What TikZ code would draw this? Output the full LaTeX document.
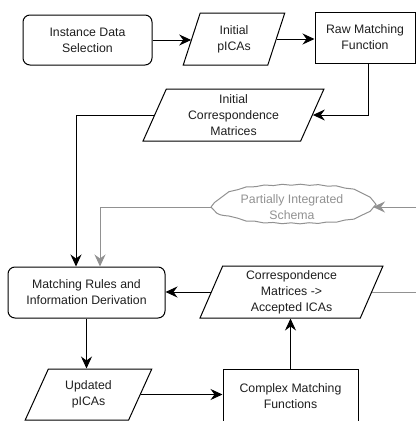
\documentclass[tikz,border=0pt]{standalone}
\usepackage{fontspec}
\setmainfont{Liberation Sans}
\usetikzlibrary{arrows.meta,shapes.geometric,decorations.pathmorphing}
\definecolor{cgray}{RGB}{145,145,145}
\definecolor{ctext}{RGB}{30,30,30}
\begin{document}
\begin{tikzpicture}[x=1pt,y=-1pt,
  every node/.style={font=\fontsize{12.3}{16}\selectfont, text=ctext, align=center, line width=1pt},
  roundbox/.style={draw, rounded corners=7pt, inner sep=0pt},
  rectbox/.style={draw, inner sep=0pt},
  para/.style={draw, trapezium, trapezium stretches=true, inner sep=0pt},
  link/.style={line width=1pt, -{Stealth[length=12pt,width=11pt,inset=4pt]}},
  glink/.style={line width=1pt, draw=cgray, -{Stealth[length=12pt,width=11pt,inset=4pt]}},
  gline/.style={line width=1pt, draw=cgray},
  cloudline/.style={line width=1pt, draw=cgray, decorate, decoration={snake, amplitude=0.5pt, segment length=18pt}}]
\useasboundingbox (0,0) rectangle (416,421);
% nodes
\node[roundbox, minimum width=129pt, minimum height=50pt] (n1) at (87.5,40) {Instance Data\\Selection};
\node[para, trapezium left angle=73, trapezium right angle=107, minimum width=102pt, minimum height=52pt] (n2) at (234,39) {Initial\\pICAs};
\node[rectbox, minimum width=100pt, minimum height=51pt] (n3) at (365,37.5) {Raw Matching\\Function};
\node[para, trapezium left angle=69, trapezium right angle=111, minimum width=181pt, minimum height=52pt] (n4) at (233.5,115) {Initial\\Correspondence\\Matrices};
\node[ellipse, inner sep=0pt, minimum width=161pt, minimum height=37pt, text=cgray] (pis) at (292,207) {Partially Integrated\\Schema};
\node[roundbox, minimum width=157pt, minimum height=51pt] (n5) at (86.5,292.5) {Matching Rules and\\Information Derivation};
\node[para, trapezium left angle=71, trapezium right angle=109, minimum width=183pt, minimum height=52pt] (n6) at (291.5,292) {Correspondence\\Matrices ->\\Accepted ICAs};
\node[para, trapezium left angle=64, trapezium right angle=116, minimum width=127pt, minimum height=51pt] (n7) at (88.5,394.5) {Updated\\pICAs};
\node[rectbox, minimum width=135pt, minimum height=54pt] (n8) at (290.5,396) {Complex Matching\\Functions};
% cloud outline of the schema node
\draw[cloudline] (pis.west) .. controls +(12,-13) and +(-58,0) .. (pis.north)
  .. controls +(58,0) and +(-12,-13) .. (pis.east)
  .. controls +(-12,13) and +(58,0) .. (pis.south)
  .. controls +(-58,0) and +(12,13) .. (pis.west);
% free ends at the right border
\coordinate (rx) at (416,0);
% black connectors
\draw[link] (n1.east) -- (n1.east -| n2.west);
\draw[link] (n2.east) -- (n2.east -| n3.west);
\draw[link] ([xshift=3pt]n3.south) |- (n4.east);
\draw[link] (n4.west) -| ([xshift=-10.5pt]n5.north);
\draw[link] (n6.west) -- (n6.west -| n5.east);
\draw[link] (n5.south) -- (n5.south |- n7.north);
\draw[link] (n7.east) -- (n7.east -| n8.west);
\draw[link] (n8.north) -- (n8.north |- n6.south);
% gray connectors
\draw[gline] (n6.east) -- (n6.east -| rx);
\draw[glink] (rx |- pis.east) -- (pis.east);
\draw[glink] (pis.west) -| ([xshift=13.5pt]n5.north);
\end{tikzpicture}
\end{document}
